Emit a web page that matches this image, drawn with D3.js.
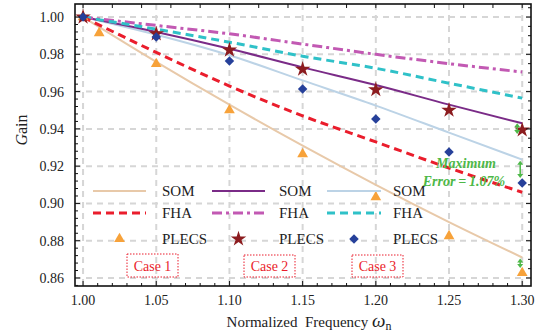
<!DOCTYPE html>
<html><head><meta charset="utf-8">
<script src="https://cdn.jsdelivr.net/npm/d3@7"></script>
<style>
html,body{margin:0;padding:0;background:#fff;}
svg{display:block;}
svg text{font-family:"Liberation Serif","DejaVu Serif","Times New Roman",serif;}
</style></head>
<body><svg id="c" width="551" height="334" font-family="Liberation Serif, DejaVu Serif, serif"></svg>
<script>
// ---- data ----
const freq = [1.00, 1.05, 1.10, 1.15, 1.20, 1.25, 1.30];
const som1 = [1.000, 0.976, 0.953, 0.931, 0.910, 0.890, 0.871];
const fha1 = [1.000, 0.981, 0.963, 0.947, 0.933, 0.919, 0.906];
const plecsFreq1 = [1.00, 1.011, 1.05, 1.10, 1.15, 1.20, 1.25, 1.30];
const plecs1 = [1.000, 0.9914, 0.9748, 0.950, 0.9265, 0.9034, 0.8825, 0.8627];
const som2 = [1.000, 0.992, 0.983, 0.973, 0.9635, 0.953, 0.943];
const fha2 = [1.000, 0.9955, 0.991, 0.9855, 0.980, 0.975, 0.9705];
const plecs2 = [1.000, 0.991, 0.9823, 0.972, 0.961, 0.950, 0.9394];
const som3 = [1.000, 0.9905, 0.9795, 0.966, 0.9525, 0.938, 0.9235];
const fha3 = [1.000, 0.9935, 0.9865, 0.979, 0.9725, 0.9645, 0.9565];
const plecs3 = [1.000, 0.9893, 0.9764, 0.9614, 0.9453, 0.9276, 0.911];
const xTicks = [1.00, 1.05, 1.10, 1.15, 1.20, 1.25, 1.30];
const yTicks = [0.86, 0.88, 0.90, 0.92, 0.94, 0.96, 0.98, 1.00];
const caseLabels = ["Case 1", "Case 2", "Case 3"];
const legendNames = ["SOM", "FHA", "PLECS"];
const annotation = ["Maximum", "Error\u2009=\u20091.07%"];

// ---- layout ----
const FF = "Liberation Serif, DejaVu Serif, serif";
const svg = d3.select("#c");
const L = 75, R = 531, T = 4, B = 286;
const x = d3.scaleLinear().domain([0.9945, 1.306]).range([L, R]);
const y = d3.scaleLinear().domain([0.8557, 1.007]).range([B, T]);

const green = "#4db848";
const cols = {
  som1: "#e8c9a9", fha1: "#ea1d2c", p1: "#f7a23a",
  som2: "#7a2b87", fha2: "#c259b3", p2: "#8c1c1f",
  som3: "#bcd3e6", fha3: "#2fc1c8", p3: "#26409a"
};
function txt(sel) { return sel.append("text").attr("font-family", FF); }

// grid
const grid = svg.append("g");
xTicks.forEach(t => grid.append("line").attr("x1", x(t)).attr("x2", x(t)).attr("y1", T).attr("y2", B)
  .attr("stroke", "#d6d6d6").attr("stroke-width", 2).attr("stroke-dasharray", "6,5"));
yTicks.forEach(t => grid.append("line").attr("x1", L).attr("x2", R).attr("y1", y(t)).attr("y2", y(t))
  .attr("stroke", "#d6d6d6").attr("stroke-width", 2).attr("stroke-dasharray", "6,5"));

// case boxes
const caseBox = [[127, 254, 51, 23], [244, 255, 51, 22], [352, 255, 51, 22]];
caseLabels.forEach((c, i) => {
  const b = caseBox[i];
  svg.append("rect").attr("x", b[0]).attr("y", b[1]).attr("width", b[2]).attr("height", b[3])
    .attr("fill", "none").attr("stroke", "#ea1d2c").attr("stroke-width", 1).attr("stroke-dasharray", "1.5,1.5");
  txt(svg).attr("x", b[0] + b[2] / 2).attr("y", b[1] + b[3] / 2 + 5).attr("text-anchor", "middle")
    .attr("font-size", 14).attr("fill", "#ea1d2c").text(c);
});

// lines
const line = d3.line().x(d => x(d[0])).y(d => y(d[1])).curve(d3.curveMonotoneX);
function drawLine(vals, color, w, dash) {
  svg.append("path").datum(freq.map((f, i) => [f, vals[i]])).attr("d", line)
    .attr("fill", "none").attr("stroke", color).attr("stroke-width", w)
    .attr("stroke-dasharray", dash || null);
}
drawLine(som1, cols.som1, 2);
drawLine(som3, cols.som3, 2);
drawLine(som2, cols.som2, 2);
drawLine(fha2, cols.fha2, 3, "10,4,3,4");
drawLine(fha3, cols.fha3, 3, "8,5");
drawLine(fha1, cols.fha1, 3, "8,5");

// markers
const tri = d3.symbol().type(d3.symbolTriangle).size(50);
const star = d3.symbol().type(d3.symbolStar).size(75);
const dia = d3.symbol().type(d3.symbolSquare).size(45);
function marks(fs, vals, gen, color, rot) {
  fs.forEach((f, i) => svg.append("path").attr("d", gen())
    .attr("transform", `translate(${x(f)},${y(vals[i])})` + (rot ? ` rotate(${rot})` : ""))
    .attr("fill", color));
}
marks(plecsFreq1, plecs1, tri, cols.p1);
marks(freq, plecs2, star, cols.p2);
marks(freq, plecs3, dia, cols.p3, 45);

// green error arrows
function dArrow(xp, y1, y2) {
  const g = svg.append("g").attr("fill", green).attr("stroke", green);
  g.append("line").attr("x1", xp).attr("x2", xp).attr("y1", y1 + 3).attr("y2", y2 - 3).attr("stroke-width", 1.5);
  g.append("path").attr("d", `M${xp - 3},${y1 + 4}L${xp},${y1}L${xp + 3},${y1 + 4}Z`).attr("stroke", "none");
  g.append("path").attr("d", `M${xp - 3},${y2 - 4}L${xp},${y2}L${xp + 3},${y2 - 4}Z`).attr("stroke", "none");
}
const last = freq.length - 1;
dArrow(x(1.30) - 5, y(som2[last]), y(plecs2[last]) + 4);
dArrow(x(1.30) - 2, y(som3[last]) + 1, y(plecs3[last]) - 5);
dArrow(x(1.30) - 2, y(som1[last]) + 1, y(plecs1[plecs1.length - 1]) - 5);

txt(svg).attr("x", 466).attr("y", 168).attr("text-anchor", "middle")
  .attr("font-size", 14).attr("font-style", "italic").attr("font-weight", "bold").attr("fill", green).text(annotation[0]);
txt(svg).attr("x", 464).attr("y", 186).attr("text-anchor", "middle")
  .attr("font-size", 14).attr("font-style", "italic").attr("font-weight", "bold").attr("fill", green).text(annotation[1]);

// legend
const legCols = [
  { x0: 93, x1: 146, tx: 162, som: cols.som1, fha: cols.fha1, fdash: "8,5", p: cols.p1, gen: tri, rot: 0 },
  { x0: 212, x1: 265, tx: 279, som: cols.som2, fha: cols.fha2, fdash: "10,4,3,4", p: cols.p2, gen: star, rot: 0 },
  { x0: 327, x1: 381, tx: 393, som: cols.som3, fha: cols.fha3, fdash: "8,5", p: cols.p3, gen: dia, rot: 45 }
];
const legY = [191, 213, 239];
legCols.forEach(c => {
  svg.append("line").attr("x1", c.x0).attr("x2", c.x1).attr("y1", legY[0]).attr("y2", legY[0])
    .attr("stroke", c.som).attr("stroke-width", 2);
  svg.append("line").attr("x1", c.x0).attr("x2", c.x1).attr("y1", legY[1]).attr("y2", legY[1])
    .attr("stroke", c.fha).attr("stroke-width", 3).attr("stroke-dasharray", c.fdash);
  svg.append("path").attr("d", c.gen()).attr("transform", `translate(${(c.x0 + c.x1) / 2},${legY[2]}) rotate(${c.rot})`)
    .attr("fill", c.p);
  legendNames.forEach((n, i) => txt(svg).attr("x", c.tx).attr("y", legY[i] + 5)
    .attr("font-size", 15).attr("fill", "#222").text(n));
});

// frame and ticks
const ax = svg.append("g").attr("stroke", "#111");
ax.append("rect").attr("x", L).attr("y", T).attr("width", R - L).attr("height", B - T)
  .attr("fill", "none").attr("stroke-width", 1.6);
const near = (a, b) => Math.abs(a - b) < 1e-6;
d3.range(0, 31).map(i => 1 + i * 0.01).forEach(t => {
  const major = xTicks.some(m => near(m, t));
  ax.append("line").attr("x1", x(t)).attr("x2", x(t)).attr("y1", B).attr("y2", B - (major ? 5 : 3)).attr("stroke-width", 1);
});
d3.range(0, 16).map(i => 1 + i * 0.02).forEach(t => {
  ax.append("line").attr("x1", x(t)).attr("x2", x(t)).attr("y1", T).attr("y2", T + 4).attr("stroke-width", 1);
});
d3.range(0, 37).map(i => 0.856 + i * 0.004).filter(t => t <= 1.0065).forEach(t => {
  const major = yTicks.some(m => near(m, t));
  ax.append("line").attr("x1", L).attr("x2", L + (major ? 5 : 3)).attr("y1", y(t)).attr("y2", y(t)).attr("stroke-width", 1);
});
d3.range(0, 31).map(i => 0.855 + i * 0.005).filter(t => t <= 1.0065 && t >= 0.856).forEach(t => {
  const major = yTicks.some(m => near(m, t));
  ax.append("line").attr("x1", R).attr("x2", R - (major ? 5 : 3)).attr("y1", y(t)).attr("y2", y(t)).attr("stroke-width", 1);
});

// tick labels
xTicks.forEach(t => txt(svg).attr("x", x(t)).attr("y", 305).attr("text-anchor", "middle")
  .attr("font-size", 14).attr("fill", "#222").text(t.toFixed(2)));
yTicks.forEach(t => txt(svg).attr("x", 64).attr("y", y(t) + 5).attr("text-anchor", "end")
  .attr("font-size", 14).attr("fill", "#222").text(t.toFixed(2)));

// axis titles
const xl = txt(svg).attr("x", 309).attr("y", 327).attr("text-anchor", "middle").attr("font-size", 15).attr("fill", "#222");
xl.append("tspan").text("Normalized\u2002Frequency ");
xl.append("tspan").attr("font-style", "italic").attr("font-size", 19).text("\u03c9");
xl.append("tspan").attr("font-size", 12).attr("dy", 3).text("n");
const yl = txt(svg).attr("transform", "translate(27,130) rotate(-90)").attr("text-anchor", "middle")
  .attr("font-size", 16).attr("fill", "#222");
yl.append("tspan").attr("font-style", "italic").text("G");
yl.append("tspan").text("ain");
</script></body></html>
